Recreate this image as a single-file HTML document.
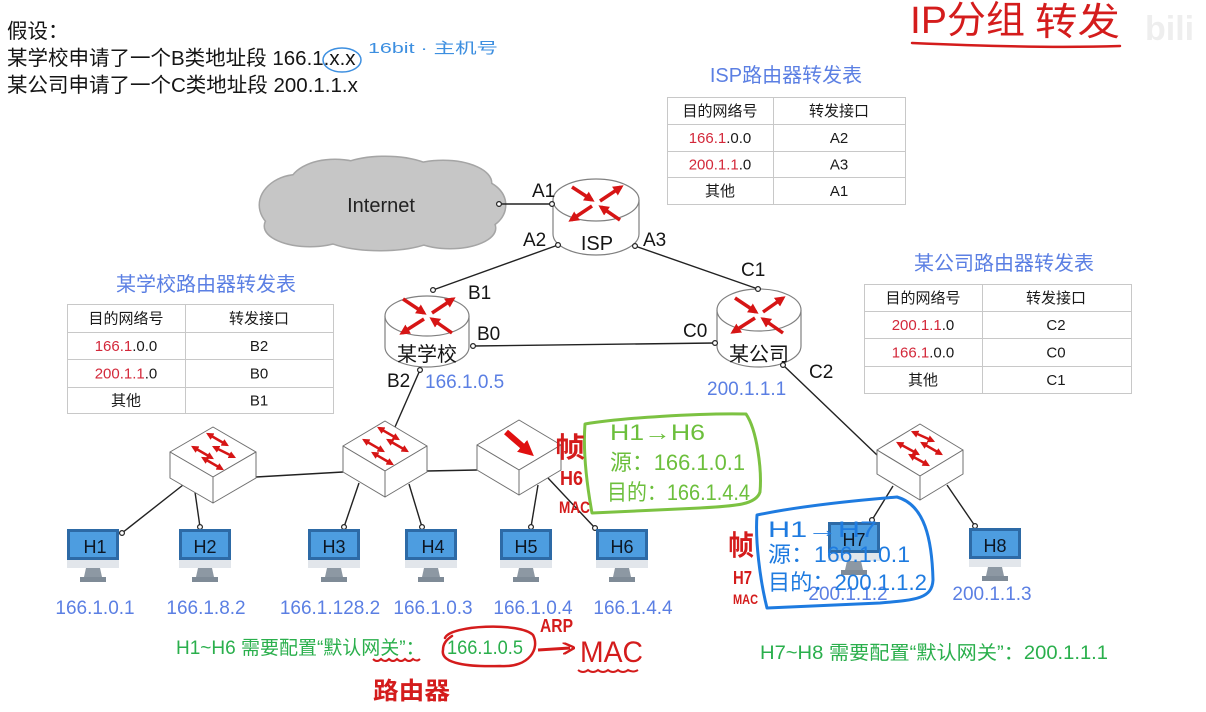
<!DOCTYPE html>
<html><head><meta charset="utf-8"><style>
html,body{margin:0;padding:0;background:#fff;}
svg{display:block;font-family:"Liberation Sans","Noto Sans CJK SC",sans-serif;}
</style></head><body>
<svg width="1206" height="712" viewBox="0 0 1206 712" xmlns="http://www.w3.org/2000/svg">
<defs>
<marker id="rh" viewBox="0 0 10 10" refX="7" refY="5" markerWidth="3" markerHeight="3" orient="auto"><path d="M0,0 L10,5 L0,10 z" fill="#d61515"/></marker>
<marker id="dh" viewBox="0 0 10 10" refX="7" refY="5" markerWidth="3" markerHeight="3" orient="auto-start-reverse"><path d="M0,0 L10,5 L0,10 z" fill="#d61515"/></marker>
<marker id="bh" viewBox="0 0 10 10" refX="5" refY="5" markerWidth="2.6" markerHeight="2.6" orient="auto"><path d="M0,0 L10,5 L0,10 z" fill="#e01010"/></marker>
<marker id="hr" viewBox="0 0 10 10" refX="6" refY="5" markerWidth="4" markerHeight="4" orient="auto"><path d="M0,0 L10,5 L0,10" fill="none" stroke="#d41c1c" stroke-width="2"/></marker>
</defs>

<!-- top text -->
<g font-size="20.5" fill="#151515">
<text x="7" y="38">假设：</text>
<text x="7" y="65">某学校申请了一个B类地址段 166.1.x.x</text>
<text x="7" y="92">某公司申请了一个C类地址段 200.1.1.x</text>
</g>
<ellipse cx="342" cy="60" rx="19" ry="12" fill="none" stroke="#3d8fe0" stroke-width="1.5"/>
<text x="368" y="53" font-size="15" fill="#3d8fe0" textLength="130" lengthAdjust="spacingAndGlyphs">16bit · 主机号</text>

<!-- title handwriting top right -->
<text x="1145" y="40" font-size="34" font-weight="bold" fill="#eeeeee">bili</text>
<text x="910" y="33" font-size="38" fill="#d41c1c" textLength="115" lengthAdjust="spacingAndGlyphs">IP分组</text>
<text x="1035" y="35" font-size="38" fill="#d41c1c" textLength="85" lengthAdjust="spacingAndGlyphs">转发</text>
<path d="M912,43 C980,46 1060,48 1120,46" fill="none" stroke="#d41c1c" stroke-width="2.5" stroke-linecap="round"/>

<!-- cloud -->
<g fill="#c6c6c6" stroke="#a5a5a5" stroke-width="3">
<ellipse cx="300" cy="205" rx="40" ry="30"/><ellipse cx="335" cy="185" rx="45" ry="25"/><ellipse cx="385" cy="178" rx="55" ry="21"/><ellipse cx="443" cy="183" rx="48" ry="22"/><ellipse cx="475" cy="205" rx="30" ry="25"/><ellipse cx="450" cy="228" rx="45" ry="20"/><ellipse cx="380" cy="232" rx="60" ry="18"/><ellipse cx="310" cy="226" rx="45" ry="20"/><ellipse cx="380" cy="205" rx="100" ry="30"/>
</g>
<g fill="#c6c6c6">
<ellipse cx="300" cy="205" rx="40" ry="30"/><ellipse cx="335" cy="185" rx="45" ry="25"/><ellipse cx="385" cy="178" rx="55" ry="21"/><ellipse cx="443" cy="183" rx="48" ry="22"/><ellipse cx="475" cy="205" rx="30" ry="25"/><ellipse cx="450" cy="228" rx="45" ry="20"/><ellipse cx="380" cy="232" rx="60" ry="18"/><ellipse cx="310" cy="226" rx="45" ry="20"/><ellipse cx="380" cy="205" rx="100" ry="30"/>
</g>
<text x="381" y="212" font-size="20" fill="#222" text-anchor="middle">Internet</text>

<!-- connection lines -->
<g stroke="#222" stroke-width="1.4" fill="none">
<line x1="499" y1="204" x2="552" y2="204"/>
<line x1="558" y1="245" x2="433" y2="290"/>
<line x1="635" y1="246" x2="758" y2="289"/>
<line x1="473" y1="346" x2="715" y2="343"/>
<line x1="420" y1="370" x2="395" y2="427"/>
<line x1="783" y1="365" x2="877" y2="455"/>
<line x1="256" y1="477" x2="343" y2="472"/>
<line x1="427" y1="471" x2="477" y2="470"/>
<line x1="183" y1="485" x2="122" y2="533"/>
<line x1="195" y1="492" x2="200" y2="527"/>
<line x1="359" y1="483" x2="344" y2="527"/>
<line x1="409" y1="484" x2="422" y2="527"/>
<line x1="538" y1="485" x2="531" y2="527"/>
<line x1="548" y1="478" x2="595" y2="528"/>
<line x1="893" y1="486" x2="872" y2="520"/>
<line x1="947" y1="485" x2="975" y2="526"/>
</g>

<!-- routers -->
<g stroke="#808080" stroke-width="1.2" fill="#fff">
<path d="M553,200 L553,234 A43,21 0 0 0 639,234 L639,200"/>
<ellipse cx="596" cy="200" rx="43" ry="21"/>
<path d="M385,316 L385,347 A42,20 0 0 0 469,347 L469,316"/>
<ellipse cx="427" cy="316" rx="42" ry="20"/>
<path d="M717,310 L717,346 A42,21 0 0 0 801,346 L801,310"/>
<ellipse cx="759" cy="310" rx="42" ry="21"/>
</g>
<g stroke="#d61515" stroke-width="3.5" marker-end="url(#rh)">
<line x1="572" y1="187" x2="592" y2="200"/><line x1="600" y1="201" x2="621" y2="187"/><line x1="592" y1="206" x2="571" y2="220"/><line x1="620" y1="220" x2="601" y2="207"/>
<line x1="403" y1="299" x2="424" y2="313"/><line x1="432" y1="313" x2="453" y2="299"/><line x1="424" y1="319" x2="402" y2="333"/><line x1="452" y1="333" x2="432" y2="319"/>
<line x1="735" y1="298" x2="756" y2="312"/><line x1="763" y1="312" x2="783" y2="298"/><line x1="755" y1="318" x2="733" y2="332"/><line x1="783" y1="333" x2="763" y2="319"/>
</g>
<g font-size="20" fill="#151515" text-anchor="middle">
<text x="597" y="250">ISP</text>
<text x="427" y="361">某学校</text>
<text x="759" y="361">某公司</text>
</g>

<!-- interface labels -->
<g font-size="19" fill="#151515">
<text x="532" y="197">A1</text>
<text x="523" y="246">A2</text>
<text x="643" y="246">A3</text>
<text x="468" y="299">B1</text>
<text x="477" y="340">B0</text>
<text x="387" y="387">B2</text>
<text x="741" y="276">C1</text>
<text x="683" y="337">C0</text>
<text x="809" y="378">C2</text>
</g>
<g font-size="19" fill="#5b7fe3">
<text x="425" y="388">166.1.0.5</text>
<text x="707" y="395">200.1.1.1</text>
</g>

<!-- dots -->
<g fill="#fff" stroke="#222" stroke-width="1.2">
<circle cx="499" cy="204" r="2.4"/><circle cx="552" cy="204" r="2.4"/><circle cx="558" cy="245" r="2.4"/><circle cx="635" cy="246" r="2.4"/>
<circle cx="433" cy="290" r="2.4"/><circle cx="473" cy="346" r="2.4"/><circle cx="420" cy="370" r="2.4"/>
<circle cx="758" cy="289" r="2.4"/><circle cx="715" cy="343" r="2.4"/><circle cx="783" cy="365" r="2.4"/>
<circle cx="122" cy="533" r="2.4"/><circle cx="200" cy="527" r="2.4"/><circle cx="344" cy="527" r="2.4"/><circle cx="422" cy="527" r="2.4"/><circle cx="531" cy="527" r="2.4"/><circle cx="595" cy="528" r="2.4"/><circle cx="872" cy="520" r="2.4"/><circle cx="975" cy="526" r="2.4"/>
</g>

<!-- switches -->
<g fill="#fff" stroke="#707070" stroke-width="1" stroke-linejoin="round">
<polygon points="213,427 256,452 213,477 170,452"/><polygon points="170,452 213,477 213,503 170,478"/><polygon points="213,477 256,452 256,478 213,503"/>
<polygon points="385,421 427,446 385,471 343,446"/><polygon points="343,446 385,471 385,497 343,472"/><polygon points="385,471 427,446 427,472 385,497"/>
<polygon points="519,420 561,445 519,470 477,445"/><polygon points="477,445 519,470 519,495 477,470"/><polygon points="519,470 561,445 561,470 519,495"/>
<polygon points="920,424 963,450 920,476 877,450"/><polygon points="877,450 920,476 920,500 877,474"/><polygon points="920,476 963,450 963,474 920,500"/>
</g>
<g stroke="#d61515" stroke-width="2.5" marker-start="url(#dh)" marker-end="url(#dh)">
<line x1="208" y1="434" x2="227" y2="445"/><line x1="193" y1="447" x2="212" y2="458"/><line x1="214" y1="447" x2="234" y2="457"/><line x1="203" y1="458" x2="222" y2="469"/>
<line x1="379" y1="428" x2="398" y2="439"/><line x1="364" y1="440" x2="383" y2="451"/><line x1="388" y1="440" x2="407" y2="451"/><line x1="373" y1="453" x2="392" y2="464"/>
<line x1="913" y1="432" x2="933" y2="441"/><line x1="898" y1="443" x2="918" y2="454"/><line x1="922" y1="443" x2="941" y2="454"/><line x1="910" y1="455" x2="928" y2="465"/>
</g>
<line x1="506" y1="432" x2="528" y2="451" stroke="#e01010" stroke-width="6" marker-end="url(#bh)"/>

<!-- hosts -->
<g id="hosts">
<g transform="translate(67,529)"><rect x="0" y="0" width="52" height="31" fill="#2d6aa6"/><rect x="3" y="3" width="46" height="25" fill="#4d9de0"/><rect x="0" y="31" width="52" height="8" fill="#e2e6eb"/><polygon points="19,39 33,39 35,48 17,48" fill="#8d98a3"/><rect x="13" y="48" width="26" height="5" fill="#7f8b97"/><text x="28" y="24" font-size="18" fill="#0d1724" text-anchor="middle">H1</text></g>
<g transform="translate(179,529)"><rect x="0" y="0" width="52" height="31" fill="#2d6aa6"/><rect x="3" y="3" width="46" height="25" fill="#4d9de0"/><rect x="0" y="31" width="52" height="8" fill="#e2e6eb"/><polygon points="19,39 33,39 35,48 17,48" fill="#8d98a3"/><rect x="13" y="48" width="26" height="5" fill="#7f8b97"/><text x="26" y="24" font-size="18" fill="#0d1724" text-anchor="middle">H2</text></g>
<g transform="translate(308,529)"><rect x="0" y="0" width="52" height="31" fill="#2d6aa6"/><rect x="3" y="3" width="46" height="25" fill="#4d9de0"/><rect x="0" y="31" width="52" height="8" fill="#e2e6eb"/><polygon points="19,39 33,39 35,48 17,48" fill="#8d98a3"/><rect x="13" y="48" width="26" height="5" fill="#7f8b97"/><text x="26" y="24" font-size="18" fill="#0d1724" text-anchor="middle">H3</text></g>
<g transform="translate(405,529)"><rect x="0" y="0" width="52" height="31" fill="#2d6aa6"/><rect x="3" y="3" width="46" height="25" fill="#4d9de0"/><rect x="0" y="31" width="52" height="8" fill="#e2e6eb"/><polygon points="19,39 33,39 35,48 17,48" fill="#8d98a3"/><rect x="13" y="48" width="26" height="5" fill="#7f8b97"/><text x="28" y="24" font-size="18" fill="#0d1724" text-anchor="middle">H4</text></g>
<g transform="translate(500,529)"><rect x="0" y="0" width="52" height="31" fill="#2d6aa6"/><rect x="3" y="3" width="46" height="25" fill="#4d9de0"/><rect x="0" y="31" width="52" height="8" fill="#e2e6eb"/><polygon points="19,39 33,39 35,48 17,48" fill="#8d98a3"/><rect x="13" y="48" width="26" height="5" fill="#7f8b97"/><text x="26" y="24" font-size="18" fill="#0d1724" text-anchor="middle">H5</text></g>
<g transform="translate(596,529)"><rect x="0" y="0" width="52" height="31" fill="#2d6aa6"/><rect x="3" y="3" width="46" height="25" fill="#4d9de0"/><rect x="0" y="31" width="52" height="8" fill="#e2e6eb"/><polygon points="19,39 33,39 35,48 17,48" fill="#8d98a3"/><rect x="13" y="48" width="26" height="5" fill="#7f8b97"/><text x="26" y="24" font-size="18" fill="#0d1724" text-anchor="middle">H6</text></g>
<g transform="translate(828,522)"><rect x="0" y="0" width="52" height="31" fill="#2d6aa6"/><rect x="3" y="3" width="46" height="25" fill="#4d9de0"/><rect x="0" y="31" width="52" height="8" fill="#e2e6eb"/><polygon points="19,39 33,39 35,48 17,48" fill="#8d98a3"/><rect x="13" y="48" width="26" height="5" fill="#7f8b97"/><text x="26" y="24" font-size="18" fill="#0d1724" text-anchor="middle">H7</text></g>
<g transform="translate(969,528)"><rect x="0" y="0" width="52" height="31" fill="#2d6aa6"/><rect x="3" y="3" width="46" height="25" fill="#4d9de0"/><rect x="0" y="31" width="52" height="8" fill="#e2e6eb"/><polygon points="19,39 33,39 35,48 17,48" fill="#8d98a3"/><rect x="13" y="48" width="26" height="5" fill="#7f8b97"/><text x="26" y="24" font-size="18" fill="#0d1724" text-anchor="middle">H8</text></g>
</g>
<g font-size="19" fill="#5b7fe3" text-anchor="middle">
<text x="95" y="614">166.1.0.1</text>
<text x="206" y="614">166.1.8.2</text>
<text x="330" y="614">166.1.128.2</text>
<text x="433" y="614">166.1.0.3</text>
<text x="533" y="614">166.1.0.4</text>
<text x="633" y="614">166.1.4.4</text>
<text x="848" y="600">200.1.1.2</text>
<text x="992" y="600">200.1.1.3</text>
</g>

<!-- tables -->
<g fill="#fff" stroke="#c8c8c8" stroke-width="1">
<rect x="667.5" y="97.5" width="238" height="107"/>
<line x1="667.5" y1="124.5" x2="905.5" y2="124.5"/><line x1="667.5" y1="151.5" x2="905.5" y2="151.5"/><line x1="667.5" y1="177.5" x2="905.5" y2="177.5"/><line x1="773.5" y1="97.5" x2="773.5" y2="204.5"/>
<rect x="67.5" y="304.5" width="266" height="109"/>
<line x1="67.5" y1="332.5" x2="333.5" y2="332.5"/><line x1="67.5" y1="359.5" x2="333.5" y2="359.5"/><line x1="67.5" y1="387.5" x2="333.5" y2="387.5"/><line x1="185.5" y1="304.5" x2="185.5" y2="413.5"/>
<rect x="864.5" y="284.5" width="267" height="109"/>
<line x1="864.5" y1="311.5" x2="1131.5" y2="311.5"/><line x1="864.5" y1="338.5" x2="1131.5" y2="338.5"/><line x1="864.5" y1="366.5" x2="1131.5" y2="366.5"/><line x1="982.5" y1="284.5" x2="982.5" y2="393.5"/>
</g>
<g font-size="20" fill="#5b7fe3" text-anchor="middle">
<text x="786" y="82">ISP路由器转发表</text>
<text x="206" y="291">某学校路由器转发表</text>
<text x="1004" y="270">某公司路由器转发表</text>
</g>
<g font-size="15" fill="#1a1a1a" text-anchor="middle">
<text x="720" y="116">目的网络号</text><text x="839" y="116">转发接口</text>
<text x="720" y="143"><tspan fill="#d3283a">166.1</tspan>.0.0</text><text x="839" y="143">A2</text>
<text x="720" y="169.5"><tspan fill="#d3283a">200.1.1</tspan>.0</text><text x="839" y="169.5">A3</text>
<text x="720" y="196">其他</text><text x="839" y="196">A1</text>

<text x="126" y="323.5">目的网络号</text><text x="259" y="323.5">转发接口</text>
<text x="126" y="351"><tspan fill="#d3283a">166.1</tspan>.0.0</text><text x="259" y="351">B2</text>
<text x="126" y="378.5"><tspan fill="#d3283a">200.1.1</tspan>.0</text><text x="259" y="378.5">B0</text>
<text x="126" y="405.5">其他</text><text x="259" y="405.5">B1</text>

<text x="923" y="303">目的网络号</text><text x="1056" y="303">转发接口</text>
<text x="923" y="330"><tspan fill="#d3283a">200.1.1</tspan>.0</text><text x="1056" y="330">C2</text>
<text x="923" y="357.5"><tspan fill="#d3283a">166.1</tspan>.0.0</text><text x="1056" y="357.5">C0</text>
<text x="923" y="385">其他</text><text x="1056" y="385">C1</text>
</g>

<!-- bottom green text -->
<g font-size="19" fill="#2aaf4c">
<text x="176" y="654">H1~H6 需要配置“默认网关”：</text>
<text x="447" y="654" textLength="76" lengthAdjust="spacingAndGlyphs">166.1.0.5</text>
<text x="760" y="659" textLength="348" lengthAdjust="spacingAndGlyphs">H7~H8 需要配置“默认网关”：200.1.1.1</text>
</g>

<!-- green handwritten box -->
<path d="M585,424 C620,418 700,413 746,414 C757,430 762,470 760,492 C756,505 735,506 700,508 L592,513 C586,480 583,450 585,424 Z" fill="none" stroke="#7cc242" stroke-width="3" stroke-linejoin="round"/>
<g fill="#6cbf3c" font-size="22">
<text x="610" y="440" textLength="95" lengthAdjust="spacingAndGlyphs">H1→H6</text>
<text x="610" y="470" textLength="135" lengthAdjust="spacingAndGlyphs">源：166.1.0.1</text>
<text x="607" y="500" textLength="143" lengthAdjust="spacingAndGlyphs">目的：166.1.4.4</text>
</g>

<!-- blue handwritten box -->
<path d="M757,515 C800,506 860,500 897,497 C925,505 932,540 933,580 C932,598 918,600 880,603 L767,608 C760,580 755,540 757,515 Z" fill="none" stroke="#1e7be0" stroke-width="3" stroke-linejoin="round"/>
<g fill="#1e7be0" font-size="22">
<text x="768" y="537" textLength="109" lengthAdjust="spacingAndGlyphs">H1→H7</text>
<text x="768" y="562" textLength="142" lengthAdjust="spacingAndGlyphs">源：166.1.0.1</text>
<text x="768" y="590" textLength="159" lengthAdjust="spacingAndGlyphs">目的：200.1.1.2</text>
</g>

<!-- red annotations -->
<g fill="#d41c1c" font-weight="bold">
<text x="555" y="457" font-size="28" textLength="30" lengthAdjust="spacingAndGlyphs">帧</text>
<text x="560" y="485" font-size="20" textLength="23" lengthAdjust="spacingAndGlyphs">H6</text>
<text x="559" y="513" font-size="17" textLength="31" lengthAdjust="spacingAndGlyphs">MAC</text>
<text x="728" y="555" font-size="28" textLength="26" lengthAdjust="spacingAndGlyphs">帧</text>
<text x="733" y="584" font-size="18" textLength="19" lengthAdjust="spacingAndGlyphs">H7</text>
<text x="733" y="604" font-size="14" textLength="25" lengthAdjust="spacingAndGlyphs">MAC</text>
<text x="540" y="632" font-size="18" textLength="33" lengthAdjust="spacingAndGlyphs">ARP</text>
<text x="580" y="662" font-size="30" font-weight="normal" textLength="63" lengthAdjust="spacingAndGlyphs">MAC</text>
<text x="373" y="699" font-size="24" textLength="77" lengthAdjust="spacingAndGlyphs">路由器</text>
</g>
<path d="M445,638 C450,625 520,622 533,635 C540,648 530,668 500,666 C470,667 440,664 443,650 C443,644 446,640 452,636" fill="none" stroke="#d41c1c" stroke-width="2.5" stroke-linecap="round"/>
<line x1="538" y1="650" x2="570" y2="648" stroke="#d41c1c" stroke-width="3" marker-end="url(#hr)"/>
<path d="M373,659 q4,4 8,0 q4,4 8,0 q4,4 8,0 q4,4 8,0 q4,4 8,0 q4,3 7,0" fill="none" stroke="#d41c1c" stroke-width="2"/>
<path d="M578,670 q5,4 10,0 q5,4 10,0 q5,4 10,0 q5,4 10,0 q5,4 10,0 q5,3 10,0" fill="none" stroke="#d41c1c" stroke-width="2"/>
</svg>
</body></html>
